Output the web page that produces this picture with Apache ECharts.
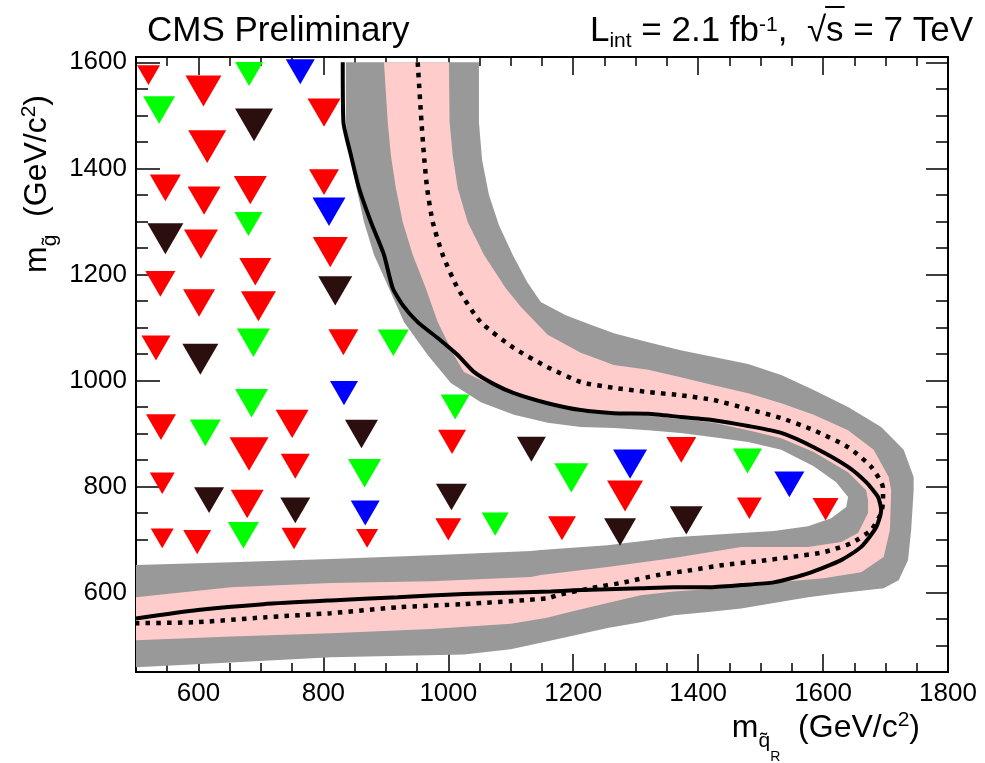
<!DOCTYPE html>
<html><head><meta charset="utf-8">
<script src="https://cdn.jsdelivr.net/npm/echarts@6/dist/echarts.min.js"></script>
<style>html,body{margin:0;padding:0;background:#fff}#c{width:985px;height:763px}</style>
</head><body><div id="c"></div>
<script>
// ---------- DATA ----------
// tick labels
const xTickLabels = [600, 800, 1000, 1200, 1400, 1600, 1800];
const yTickLabels = [600, 800, 1000, 1200, 1400, 1600];

// scanned mass points (squark mass, gluino mass), marker weight, colour class
const pointMsq = [520,608,681,763,537,689,801,614,547,609,683,801,809,680,547,604,811,691,539,819,601,696,532,603,688,832,912,833,685,540,611,750,861,681,755,866,542,617,678,755,867,542,598,672,753,870,1011,1006,1133,1197,1291,1373,1005,1283,1075,1000,1182,1275,1381,1479,1546,1482,1604];
const pointMgl = [1576,1546,1578,1582,1510,1482,1505,1441,1363,1339,1359,1374,1318,1295,1267,1257,1242,1205,1182,1169,1146,1140,1061,1040,1071,1072,1071,976,957,912,901,918,899,861,838,825,806,774,767,755,750,702,695,708,702,702,950,884,870,816,842,869,780,782,729,719,721,714,736,848,804,759,757];
const pointWeight = [23,36,28,29,32,38,33,38,31,33,33,30,33,28,36,34,35,32,30,34,32,35,29,36,33,30,31,28,33,30,31,33,33,39,29,33,25,30,33,30,29,23,28,31,25,22,29,28,29,34,34,30,31,36,27,26,28,32,33,29,30,25,26];
const pointClass = ['r','r','g','b','g','k','r','r','r','r','r','r','b','g','k','r','r','r','r','k','r','r','r','k','g','r','g','b','g','r','g','r','k','r','r','g','r','k','r','k','b','r','r','g','r','r','g','r','k','g','b','r','k','r','g','r','r','k','k','g','b','r','r'];

// observed limit
const obsX = [831,832,844,857,876,897,911,927,951,983,1015,1041,1073,1105,1159,1212,1265,1320,1372,1425,1480,1533,1585,1640,1669,1688,1693,1685,1661,1629,1576,1521,1469,1416,1361,1308,1255,1201,1164,1025,919,812,704,599,500];
const obsY = [1600,1488,1425,1363,1299,1237,1174,1142,1110,1080,1048,1016,993,976,957,944,938,937,931,925,914,901,874,837,808,780,755,723,686,661,636,619,614,610,610,608,606,604,602,597,591,585,578,567,551];
// expected limit
const expX = [951,957,961,966,975,991,1015,1052,1105,1159,1212,1265,1320,1372,1425,1480,1533,1585,1640,1677,1696,1696,1693,1677,1645,1601,1549,1496,1441,1388,1336,1281,1228,1175,1159,1025,919,812,704,599,500];
const expY = [1600,1488,1425,1363,1299,1237,1174,1110,1061,1025,997,986,978,972,963,946,929,906,874,837,797,774,750,718,693,676,667,659,652,642,633,619,608,595,589,578,572,561,553,544,542];
// +-1 sigma band edges
const sig1InX = [897,903,908,916,927,943,964,983,1009,1025,1052,1105,1159,1212,1265,1320,1372,1425,1480,1533,1585,1640,1669,1672,1672,1656,1629,1576,1521,1469,1361,1255,1148,1132,972,812,652,500];
const sig1InY = [1600,1488,1425,1363,1299,1237,1174,1110,1048,1016,1001,972,954,940,935,933,927,920,906,891,865,827,793,774,750,712,695,686,686,686,665,648,633,629,621,618,610,591];
const sig1OutX = [1001,1002,1007,1015,1031,1057,1092,1116,1159,1212,1265,1320,1372,1425,1480,1533,1585,1640,1681,1705,1709,1707,1697,1661,1601,1521,1469,1416,1361,1308,1255,1201,1156,1100,972,812,652,500];
const sig1OutY = [1600,1488,1425,1363,1299,1237,1174,1139,1086,1052,1029,1020,1006,991,976,957,935,906,869,818,793,718,667,638,627,619,612,606,602,595,580,565,552,541,531,523,517,510];
// +-2 sigma band edges
const sig2InX = [836,836,842,853,865,881,905,929,967,1004,1052,1105,1159,1212,1265,1320,1372,1425,1480,1533,1585,1621,1640,1637,1613,1576,1521,1469,1361,1255,1148,1132,972,812,652,500];
const sig2InY = [1600,1488,1425,1363,1299,1237,1174,1110,1048,995,959,935,920,912,910,906,901,893,884,869,838,808,780,761,740,725,716,712,704,689,680,678,670,663,657,652];
const sig2OutX = [1049,1049,1054,1065,1081,1103,1126,1148,1188,1228,1265,1320,1372,1425,1480,1533,1585,1640,1693,1729,1745,1745,1741,1736,1721,1697,1629,1576,1521,1469,1416,1361,1308,1255,1201,1148,1100,1025,812,652,500];
const sig2OutY = [1600,1488,1416,1350,1293,1237,1186,1148,1123,1105,1089,1072,1057,1044,1031,1010,982,950,912,869,818,793,718,661,623,608,599,591,580,570,563,557,544,533,519,505,493,483,478,468,459];

// ---------- STYLE / LAYOUT ----------
const FONT = '"Liberation Sans", Arial, Helvetica, sans-serif';
const classColor = { r: '#ff0000', g: '#00ff00', b: '#0000ff', k: '#2b0e0e' };
const GRID = { left: 136, right: 37, top: 57, bottom: 91 };

function pairs(xs, ys) { return xs.map((x, i) => [x, ys[i]]); }

function bandSeries(outX, outY, inX, inY, color, z) {
  return {
    type: 'custom', xAxisIndex: 0, yAxisIndex: 0, z: z, silent: true, clip: true,
    data: [0],
    renderItem: function (params, api) {
      const pts = [];
      for (let i = 0; i < outX.length; i++) pts.push(api.coord([outX[i], outY[i]]));
      for (let i = inX.length - 1; i >= 0; i--) pts.push(api.coord([inX[i], inY[i]]));
      return { type: 'polygon', shape: { points: pts }, style: { fill: color, stroke: null } };
    }
  };
}

const plainNum = v => String(v);

function xAxisDef(pos, major) {
  return {
    type: 'value', gridIndex: 0, position: pos, min: 500, max: 1800, interval: 50,
    axisLine: { show: true, onZero: false, lineStyle: { color: '#000', width: 2 } },
    axisTick: major
      ? { show: true, inside: true, length: 18, customValues: xTickLabels, lineStyle: { color: '#000', width: 1.5 } }
      : { show: true, inside: true, length: 9, lineStyle: { color: '#000', width: 1.5 } },
    axisLabel: (major && pos === 'bottom')
      ? { show: true, customValues: xTickLabels, formatter: plainNum, margin: 9, fontSize: 26, fontFamily: FONT, color: '#000' }
      : { show: false },
    splitLine: { show: false }
  };
}
function yAxisDef(pos, major) {
  return {
    type: 'value', gridIndex: 0, position: pos, min: 450, max: 1610, interval: 50,
    axisLine: { show: true, onZero: false, lineStyle: { color: '#000', width: 2 } },
    axisTick: major
      ? { show: true, inside: true, length: pos === 'left' ? 24 : 22, customValues: yTickLabels, lineStyle: { color: '#000', width: 1.5 } }
      : { show: true, inside: true, length: 12, lineStyle: { color: '#000', width: 1.5 } },
    axisLabel: (major && pos === 'left')
      ? { show: true, customValues: yTickLabels, formatter: plainNum, margin: 9, fontSize: 26, fontFamily: FONT, color: '#000' }
      : { show: false },
    splitLine: { show: false }
  };
}

const scatterSeries = ['r', 'g', 'b', 'k'].map(cls => {
  const data = [];
  for (let i = 0; i < pointMsq.length; i++) {
    if (pointClass[i] === cls) data.push([pointMsq[i], pointMgl[i], pointWeight[i]]);
  }
  return {
    type: 'scatter', xAxisIndex: 0, yAxisIndex: 0, z: 6, silent: true,
    symbol: 'triangle', symbolRotate: 180,
    symbolSize: v => [v[2], v[2] * 0.86],
    itemStyle: { color: classColor[cls], opacity: 1 },
    data: data
  };
});

// measure text to place the sqrt overline
const mctx = document.createElement('canvas').getContext('2d');
mctx.font = '35px ' + FONT;
const headerRight = 973;
const wS = mctx.measureText('s = 7 TeV').width;
const wAfterS = mctx.measureText(' = 7 TeV').width;

const option = {
  animation: false,
  backgroundColor: '#ffffff',
  grid: { left: GRID.left, right: GRID.right, top: GRID.top, bottom: GRID.bottom, containLabel: false },
  xAxis: [xAxisDef('bottom', true), xAxisDef('bottom', false), xAxisDef('top', true), xAxisDef('top', false)],
  yAxis: [yAxisDef('left', true), yAxisDef('left', false), yAxisDef('right', true), yAxisDef('right', false)],
  series: [
    bandSeries(sig2OutX, sig2OutY, sig2InX, sig2InY, '#999999', 1),
    bandSeries(sig1OutX, sig1OutY, sig1InX, sig1InY, '#ffcccc', 2),
    {
      type: 'line', xAxisIndex: 0, yAxisIndex: 0, z: 3, silent: true, symbol: 'none', smooth: 0.2,
      lineStyle: { color: '#000', width: 4.5, type: [4.5, 6.2], cap: 'butt' },
      data: pairs(expX, expY)
    },
    {
      type: 'line', xAxisIndex: 0, yAxisIndex: 0, z: 4, silent: true, symbol: 'none', smooth: 0.2,
      lineStyle: { color: '#000', width: 4 },
      data: pairs(obsX, obsY)
    }
  ].concat(scatterSeries),
  graphic: [
    {
      type: 'text', x: 147, y: 31, z: 10,
      style: { text: 'CMS Preliminary', font: '35px ' + FONT, fill: '#000', align: 'left', verticalAlign: 'middle' }
    },
    {
      type: 'text', x: headerRight, y: 31, z: 10,
      style: {
        text: '{n|L}{sb|int}{n| = 2.1 fb}{sp|-1}{n|,  \u221As = 7 TeV}',
        align: 'right', verticalAlign: 'middle', fill: '#000',
        rich: {
          n: { fontSize: 35, fontFamily: FONT, fill: '#000' },
          sb: { fontSize: 21, fontFamily: FONT, fill: '#000', padding: [21, 0, 0, 0] },
          sp: { fontSize: 21, fontFamily: FONT, fill: '#000', padding: [0, 0, 12, 0] }
        }
      }
    },
    {
      type: 'line', z: 10,
      shape: { x1: headerRight - wS - 1, y1: 7, x2: headerRight - wAfterS + 1, y2: 7 },
      style: { stroke: '#000', lineWidth: 2 }
    },
    {
      type: 'text', x: 920, y: 728, z: 10,
      style: {
        text: '{m|m}{s1|q\u0303}{s2|R}{u|  (GeV/c}{sp|2}{u|)}',
        align: 'right', verticalAlign: 'middle', fill: '#000',
        rich: {
          m: { fontSize: 32, fontFamily: FONT, fill: '#000' },
          s1: { fontSize: 21, fontFamily: FONT, fill: '#000', padding: [26, 0, 0, 0] },
          s2: { fontSize: 14, fontFamily: FONT, fill: '#000', padding: [58, 0, 0, 0] },
          u: { fontSize: 32, fontFamily: FONT, fill: '#000' },
          sp: { fontSize: 21, fontFamily: FONT, fill: '#000', padding: [0, 0, 15, 0] }
        }
      }
    },
    {
      type: 'text', x: 37, y: 95, z: 10, rotation: Math.PI / 2,
      style: {
        text: '{m|m}{s1|g\u0303}{u|  (GeV/c}{sp|2}{u|)}',
        align: 'right', verticalAlign: 'middle', fill: '#000',
        rich: {
          m: { fontSize: 32, fontFamily: FONT, fill: '#000' },
          s1: { fontSize: 21, fontFamily: FONT, fill: '#000', padding: [26, 0, 0, 0] },
          u: { fontSize: 32, fontFamily: FONT, fill: '#000' },
          sp: { fontSize: 21, fontFamily: FONT, fill: '#000', padding: [0, 0, 15, 0] }
        }
      }
    }
  ]
};

const chart = echarts.init(document.getElementById('c'), null, { renderer: 'canvas' });
chart.setOption(option);
</script>
</body></html>
